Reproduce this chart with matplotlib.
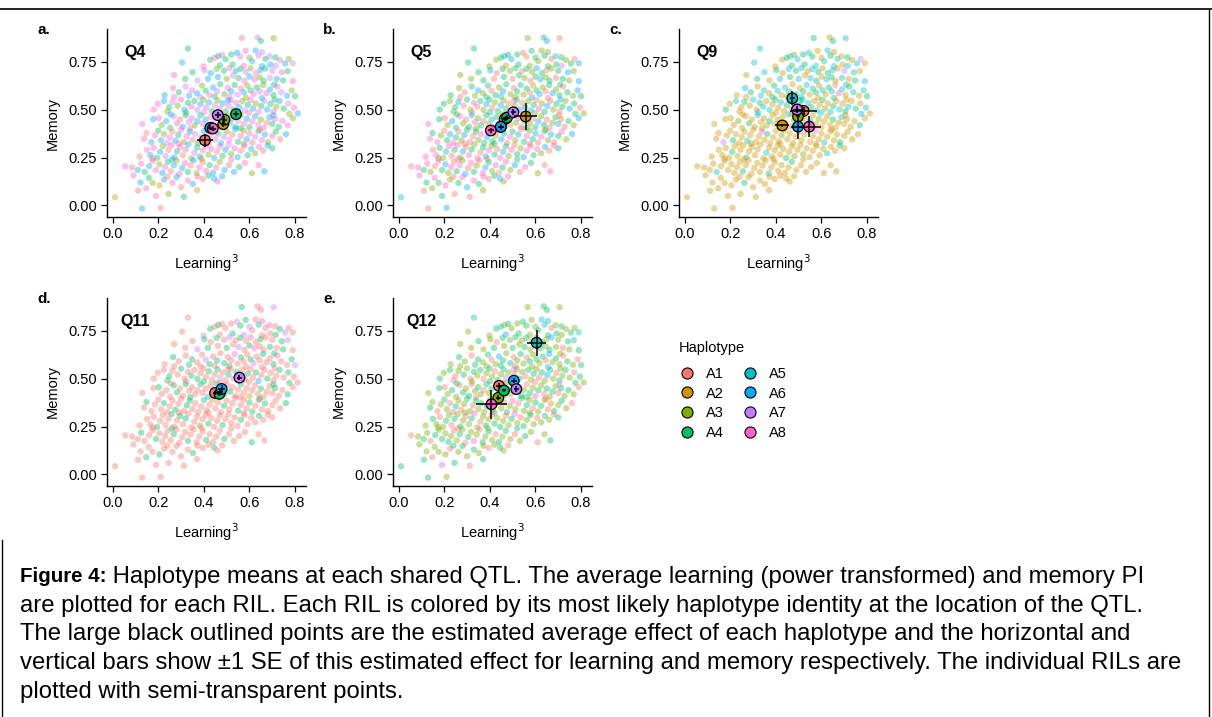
import numpy as np
import matplotlib
matplotlib.use("Agg")
import matplotlib.pyplot as plt
from matplotlib.lines import Line2D

plt.rcParams['font.family'] = ['Liberation Sans', 'DejaVu Sans']

# haplotype names and ggplot hue colours
hap_names = ["A1", "A2", "A3", "A4", "A5", "A6", "A7", "A8"]
hap_colors = ["#F8766D", "#CD9600", "#7CAE00", "#00BE67",
              "#00BFC4", "#00A9FF", "#C77CFF", "#FF61CC"]

# RIL (learning^3, memory) values, same RILs in each panel, read band by band (memory high -> low)
band_a = [(0.330,0.818),(0.566,0.873),(0.636,0.876),(0.706,0.872),(0.650,0.858),(0.627,0.808),(0.583,0.806),(0.545,0.796),(0.520,0.787),(0.655,0.800),
          (0.480,0.785),(0.463,0.779)]
band_b = [(0.305,0.745),(0.428,0.760),(0.448,0.770),(0.495,0.762),(0.560,0.776),(0.600,0.770),(0.612,0.752),(0.640,0.781),(0.670,0.764),(0.688,0.778),
          (0.714,0.772),(0.734,0.758),(0.756,0.740),(0.772,0.764),(0.790,0.741),(0.526,0.735),(0.575,0.728),(0.692,0.735),(0.715,0.728),(0.470,0.730),
          (0.398,0.725),(0.655,0.726)]
band_c = [(0.270,0.680),(0.350,0.695),(0.402,0.705),(0.430,0.690),(0.456,0.712),(0.488,0.702),(0.512,0.716),(0.540,0.700),(0.560,0.712),(0.585,0.697),
          (0.605,0.715),(0.628,0.690),(0.648,0.705),(0.670,0.714),(0.700,0.702),(0.742,0.694),(0.768,0.700),(0.462,0.670),(0.500,0.660),(0.528,0.678),
          (0.552,0.664),(0.578,0.650),(0.600,0.672),(0.622,0.658),(0.645,0.668),(0.662,0.650),(0.690,0.665),(0.720,0.660),(0.748,0.652),(0.790,0.648),
          (0.372,0.652),(0.418,0.660),(0.318,0.660)]
band_d = [(0.228,0.575),(0.265,0.612),(0.290,0.590),(0.320,0.620),(0.348,0.600),(0.370,0.585),(0.392,0.625),(0.408,0.598),(0.425,0.575),(0.440,0.615),
          (0.458,0.595),(0.472,0.632),(0.490,0.580),(0.505,0.612),(0.520,0.595),(0.535,0.628),(0.548,0.578),(0.562,0.610),(0.575,0.590),(0.590,0.625),
          (0.605,0.600),(0.618,0.580),(0.632,0.615),(0.645,0.595),(0.660,0.628),(0.675,0.585),(0.690,0.605),(0.705,0.575),(0.722,0.620),(0.740,0.590),
          (0.765,0.572),(0.785,0.600),(0.800,0.570),(0.270,0.565),(0.335,0.572),(0.385,0.565),(0.448,0.568),(0.512,0.565),(0.585,0.562),(0.655,0.560),
          (0.708,0.630)]
band_e = [(0.198,0.530),(0.225,0.545),(0.248,0.512),(0.262,0.540),(0.285,0.520),(0.300,0.552),(0.315,0.500),(0.330,0.535),(0.345,0.515),(0.358,0.545),
          (0.372,0.498),(0.385,0.528),(0.398,0.552),(0.410,0.510),(0.422,0.538),(0.435,0.492),(0.448,0.522),(0.460,0.548),(0.470,0.505),(0.482,0.532),
          (0.495,0.490),(0.508,0.520),(0.518,0.550),(0.530,0.500),(0.542,0.535),(0.555,0.512),(0.568,0.545),(0.580,0.495),(0.592,0.525),(0.605,0.550),
          (0.615,0.505),(0.628,0.532),(0.640,0.488),(0.652,0.518),(0.665,0.545),(0.678,0.500),(0.692,0.530),(0.705,0.490),(0.718,0.515),(0.732,0.545),
          (0.750,0.505),(0.770,0.532),(0.795,0.510),(0.812,0.480),(0.775,0.478),(0.710,0.552),(0.598,0.482),(0.505,0.548),(0.400,0.485),(0.322,0.485),
          (0.240,0.490),(0.180,0.500)]
band_f = [(0.130,0.425),(0.178,0.450),(0.202,0.455),(0.215,0.420),(0.235,0.440),(0.252,0.405),(0.268,0.465),(0.282,0.428),(0.295,0.448),(0.308,0.410),
          (0.320,0.470),(0.335,0.435),(0.348,0.455),(0.360,0.418),(0.372,0.440),(0.385,0.470),(0.395,0.425),(0.408,0.448),(0.418,0.405),(0.430,0.462),
          (0.442,0.430),(0.455,0.475),(0.465,0.412),(0.478,0.445),(0.490,0.420),(0.502,0.468),(0.515,0.432),(0.525,0.455),(0.538,0.410),(0.550,0.442),
          (0.562,0.470),(0.575,0.425),(0.588,0.452),(0.600,0.408),(0.612,0.438),(0.625,0.465),(0.638,0.420),(0.650,0.448),(0.662,0.405),(0.675,0.432),
          (0.688,0.460),(0.700,0.425),(0.712,0.450),(0.728,0.410),(0.745,0.440),(0.768,0.418),(0.790,0.455),(0.705,0.470),(0.560,0.402),(0.470,0.478),
          (0.340,0.402),(0.255,0.475)]
band_g = [(0.138,0.348),(0.148,0.378),(0.170,0.330),(0.185,0.365),(0.200,0.390),(0.212,0.340),(0.225,0.372),(0.238,0.325),(0.250,0.355),(0.262,0.385),
          (0.275,0.338),(0.288,0.368),(0.300,0.395),(0.312,0.330),(0.325,0.360),(0.338,0.385),(0.350,0.342),(0.362,0.372),(0.375,0.325),(0.388,0.355),
          (0.400,0.388),(0.412,0.335),(0.425,0.365),(0.438,0.392),(0.450,0.345),(0.462,0.375),(0.475,0.325),(0.488,0.358),(0.500,0.385),(0.512,0.340),
          (0.525,0.370),(0.538,0.398),(0.550,0.332),(0.562,0.362),(0.575,0.390),(0.588,0.345),(0.600,0.375),(0.612,0.328),(0.625,0.358),(0.640,0.388),
          (0.655,0.340),(0.668,0.370),(0.682,0.330),(0.700,0.362),(0.715,0.385),(0.735,0.345),(0.760,0.372),(0.290,0.322),(0.420,0.322),(0.575,0.320),
          (0.645,0.395)]
band_h = [(0.118,0.255),(0.150,0.290),(0.165,0.262),(0.180,0.300),(0.195,0.248),(0.208,0.280),(0.220,0.310),(0.232,0.258),(0.245,0.290),(0.258,0.315),
          (0.270,0.250),(0.282,0.282),(0.295,0.305),(0.308,0.262),(0.320,0.292),(0.332,0.318),(0.345,0.245),(0.358,0.275),(0.370,0.302),(0.382,0.255),
          (0.395,0.288),(0.408,0.312),(0.420,0.265),(0.432,0.295),(0.445,0.248),(0.458,0.280),(0.470,0.308),(0.482,0.258),(0.495,0.290),(0.508,0.315),
          (0.520,0.268),(0.535,0.298),(0.548,0.252),(0.562,0.285),(0.578,0.310),(0.592,0.262),(0.608,0.295),(0.625,0.272),(0.642,0.305),(0.660,0.285),
          (0.680,0.312),(0.700,0.298),(0.175,0.245),(0.260,0.240),(0.390,0.242),(0.520,0.240)]
band_i = [(0.055,0.204),(0.085,0.198),(0.110,0.185),(0.125,0.218),(0.140,0.175),(0.160,0.205),(0.175,0.232),(0.190,0.185),(0.205,0.215),(0.218,0.170),
          (0.230,0.200),(0.242,0.228),(0.255,0.178),(0.268,0.210),(0.280,0.235),(0.292,0.165),(0.305,0.195),(0.318,0.222),(0.330,0.175),(0.342,0.208),
          (0.355,0.235),(0.368,0.168),(0.380,0.198),(0.395,0.225),(0.410,0.180),(0.425,0.210),(0.440,0.170),(0.455,0.198),(0.470,0.228),(0.490,0.185),
          (0.510,0.210),(0.532,0.175),(0.555,0.200),(0.580,0.222),(0.610,0.168),(0.665,0.178),(0.640,0.210)]
band_j = [(0.010,0.043),(0.091,0.157),(0.111,0.077),(0.122,0.120),(0.147,0.090),(0.158,0.144),(0.129,-0.016),(0.210,-0.012),(0.190,0.050),(0.205,0.105),
          (0.225,0.135),(0.245,0.060),(0.262,0.118),(0.280,0.148),(0.300,0.095),(0.312,0.045),(0.330,0.130),(0.352,0.112),(0.370,0.080),(0.372,0.150),
          (0.395,0.138),(0.420,0.155),(0.445,0.140),(0.460,0.125),(0.480,0.152),(0.240,0.150),(0.175,0.118)]

# most likely haplotype of each RIL at each QTL (digits 1-8), one string per band
hap_q4 = ["4873468647 84", "6484736847 4863748674 86", "8476348647 3864784637 4868347648 764",
          "6847863486 7438647863 4847386487 6348674836 4",
          "8647386484 7638647386 4874863748 6384764836 4786348674 38",
          "8683647816 4783648638 7164836847 3864867381 6484783648 16",
          "8168463781 6483861748 6381846738 1648368174 8638416873 1",
          "1868463718 6481863746 8138618467 3861846381 648638",
          "8168461836 8416386841 6381846836 1648368", "2816846182 6386148628 1468613"]
hap_q5 = ["4341634143 46", "4346143415 4341643472 34", "3461434143 6413463414 3146341436 413",
          "4314634143 6431453412 4631463414 3641345361 4",
          "4346143814 3641346341 4356143641 8346134143 6413463141 34",
          "8413648314 6834143614 8346143816 4314634183 4621436148 34",
          "8483146841 3648143846 1438641843 6148346184 3614836148 3",
          "8184368148 3618438146 8341864381 4368148361 843814",
          "1848318463 8148361843 1864381483 6184381", "5814381648 3148618438 1463814"]
hap_q9 = ["5425452542 35", "5245425452 4257245254 25", "2542545254 2452752452 5425425245 254",
          "2542524525 4252452542 5245185245 2542542524 5",
          "2524252452 5242524527 2452542524 3254252452 4252625425 24",
          "2222322422 5222422322 2522242226 2232222422 5222242222 32",
          "2272242222 5222282422 2232222282 2422722522 2242222322 2",
          "2222242222 4222222522 2222422322 3222222522 422222",
          "2222522222 2242222222 2522222242 2222222", "2222222222 2242222222 2222222"]
hap_q11 = ["1417814718 14", "1411471418 1471147141 71", "1141417141 8141147141 7148114141 741",
           "1411411741 4141181411 4711411481 1471411411 4",
           "1141141141 4111411471 1411411141 1461141114 1411411141 41",
           "1141114411 4111141161 1411414111 4112111411 1141141411 41",
           "1411114111 4111441111 4112111411 1141114411 1411114111 4",
           "1111411114 1141411113 1141111411 1114111141 111411",
           "1114111411 1114111141 1111411114 1111411", "1111411114 1111111411 1141111"]
hap_q12 = ["5343453435 43", "3453434513 4343543436 34", "3431434341 3436345343 4314343134 343",
           "3431434136 4341343143 4341634314 3143434136 3",
           "3413431434 1343143473 4134314343 1436431434 3143431743 14",
           "3413431434 1343143437 4134314343 1438431434 3143431743 14",
           "4313431843 1343143434 3134314383 1434314343 1243431343 1",
           "3431343143 4313483134 3143431348 3143431343 143134",
           "1343143434 3134314383 1434314343 1343143", "4343134383 1434314343 1343143"]

# estimated haplotype means (learning, memory) and SE
q4_hap = [1, 2, 3, 4, 6, 7, 8]
q4_learn = [0.405, 0.485, 0.490, 0.541, 0.428, 0.461, 0.439]
q4_mem = [0.340, 0.424, 0.447, 0.476, 0.405, 0.471, 0.401]
q4_learn_se = [0.036, 0.012, 0.012, 0.015, 0.012, 0.012, 0.012]
q4_mem_se = [0.034, 0.015, 0.018, 0.015, 0.012, 0.015, 0.012]

q5_hap = [1, 3, 4, 5, 6, 7, 8, 2]
q5_learn = [0.470, 0.465, 0.475, 0.448, 0.448, 0.503, 0.404, 0.557]
q5_mem = [0.455, 0.450, 0.458, 0.410, 0.410, 0.486, 0.391, 0.464]
q5_learn_se = [0.012, 0.012, 0.012, 0.012, 0.014, 0.012, 0.012, 0.051]
q5_mem_se = [0.012, 0.012, 0.012, 0.012, 0.014, 0.015, 0.012, 0.068]

q9_hap = [1, 2, 3, 4, 5, 6, 7, 8]
q9_learn = [0.522, 0.428, 0.497, 0.493, 0.472, 0.497, 0.493, 0.546]
q9_mem = [0.493, 0.417, 0.464, 0.500, 0.559, 0.411, 0.500, 0.411]
q9_learn_se = [0.060, 0.030, 0.010, 0.010, 0.010, 0.030, 0.020, 0.052]
q9_mem_se = [0.020, 0.008, 0.010, 0.010, 0.036, 0.062, 0.020, 0.056]

q11_hap = [2, 3, 5, 1, 4, 6, 7]
q11_learn = [0.468, 0.466, 0.470, 0.449, 0.468, 0.478, 0.556]
q11_mem = [0.425, 0.424, 0.428, 0.425, 0.420, 0.446, 0.505]
q11_learn_se = [0.010, 0.010, 0.010, 0.010, 0.010, 0.014, 0.012]
q11_mem_se = [0.010, 0.010, 0.010, 0.010, 0.012, 0.020, 0.012]

q12_hap = [1, 3, 4, 5, 6, 7, 8]
q12_learn = [0.440, 0.437, 0.462, 0.605, 0.505, 0.516, 0.407]
q12_mem = [0.462, 0.400, 0.438, 0.687, 0.489, 0.445, 0.366]
q12_learn_se = [0.012, 0.012, 0.010, 0.042, 0.012, 0.012, 0.068]
q12_mem_se = [0.014, 0.012, 0.010, 0.067, 0.014, 0.015, 0.075]

caption_lines = [
    "Haplotype means at each shared QTL. The average learning (power transformed) and memory PI",
    "are plotted for each RIL. Each RIL is colored by its most likely haplotype identity at the location of the QTL.",
    "The large black outlined points are the estimated average effect of each haplotype and the horizontal and",
    "vertical bars show \u00b11 SE of this estimated effect for learning and memory respectively. The individual RILs are",
    "plotted with semi-transparent points.",
]

bands = [band_a, band_b, band_c, band_d, band_e, band_f, band_g, band_h, band_i, band_j]
rils = [p for b in bands for p in b]
learning = np.array([p[0] for p in rils])
memory = np.array([p[1] for p in rils])


def hap_codes(strings):
    out = []
    for b, s in zip(bands, strings):
        s = s.replace(" ", "")
        if len(s) != len(b):
            raise ValueError("band length %d vs %d" % (len(b), len(s)))
        out += [int(c) for c in s]
    return np.array(out)


W, H = 1212, 717
fig = plt.figure(figsize=(W / 100, H / 100), dpi=100)


def px_axes(l, t, w, h):
    return fig.add_axes([l / W, 1 - (t + h) / H, w / W, h / H])


panels = [
    ("a.", "Q4", hap_q4, q4_hap, q4_learn, q4_mem, q4_learn_se, q4_mem_se, 107, 29),
    ("b.", "Q5", hap_q5, q5_hap, q5_learn, q5_mem, q5_learn_se, q5_mem_se, 393, 29),
    ("c.", "Q9", hap_q9, q9_hap, q9_learn, q9_mem, q9_learn_se, q9_mem_se, 679, 29),
    ("d.", "Q11", hap_q11, q11_hap, q11_learn, q11_mem, q11_learn_se, q11_mem_se, 107, 298),
    ("e.", "Q12", hap_q12, q12_hap, q12_learn, q12_mem, q12_learn_se, q12_mem_se, 393, 298),
]

for tag, name, hstr, mh, ml, mm, mls, mms, left, top in panels:
    ax = px_axes(left, top, 199, 188)
    codes = hap_codes(hstr)
    cols = [hap_colors[c - 1] for c in codes]
    ax.scatter(learning, memory, c=cols, s=21, alpha=0.4, linewidths=0, zorder=2)
    ax.scatter(ml, mm, c=[hap_colors[h - 1] for h in mh], s=58,
               edgecolors="black", linewidths=0.9, zorder=3)
    ax.errorbar(ml, mm, xerr=mls, yerr=mms, fmt="none", ecolor="black",
                elinewidth=1.1, capsize=0, zorder=4)
    ax.text(0.1, 0.8, name, fontsize=11.5, fontweight="bold", ha="center", va="center")
    ax.set_xlim(-0.025, 0.848)
    ax.set_ylim(-0.06, 0.92)
    ax.set_xticks([0.0, 0.2, 0.4, 0.6, 0.8])
    ax.set_xticklabels(["0.0", "0.2", "0.4", "0.6", "0.8"])
    ax.set_yticks([0.0, 0.25, 0.5, 0.75])
    ax.set_yticklabels(["0.00", "0.25", "0.50", "0.75"])
    for s in ["top", "right"]:
        ax.spines[s].set_visible(False)
    for s in ["left", "bottom"]:
        ax.spines[s].set_linewidth(1.0)
    ax.tick_params(direction="out", length=4, width=0.9, labelsize=10.5, colors="black", pad=3)
    ax.set_xlabel("Learning$^3$", fontsize=10.5, labelpad=8)
    ax.set_ylabel("Memory", fontsize=10.5, labelpad=6)
    fig.text((left - 70) / W, 1 - (top + 1) / H, tag, fontsize=11, fontweight="bold",
             ha="left", va="center")

# legend (title drawn as its own text so the gap below it matches)
fig.text(679 / W, 1 - 348 / H, "Haplotype", fontsize=10.5, ha="left", va="center")
handles = [Line2D([], [], marker="o", linestyle="none", markersize=8,
                  markerfacecolor=c, markeredgecolor="black", markeredgewidth=0.8)
           for c in hap_colors]
leg = fig.legend(handles, hap_names, ncol=2, frameon=False,
                 loc="upper left", bbox_to_anchor=(680 / W, 1 - 367 / H),
                 fontsize=10.5, handlelength=1.0,
                 handletextpad=0.8, columnspacing=1.3, labelspacing=0.38,
                 borderpad=0, borderaxespad=0)

# caption
first_y = 577
for i, line in enumerate(caption_lines):
    y = 1 - (first_y + i * 28.7) / H
    if i == 0:
        bold = fig.text(20 / W, y, "Figure 4:", fontsize=14.8, fontweight="bold", va="center")
        plt.annotate(" " + line, xy=(1, 0.5), xycoords=bold, fontsize=17.2,
                     va="center", ha="left")
    else:
        fig.text(20 / W, y, line, fontsize=17.2, va="center")

# frame lines of the figure box
fig.add_artist(Line2D([0, 1], [1 - 9 / H, 1 - 9 / H], color="black", lw=1.2))
fig.add_artist(Line2D([1209 / W, 1209 / W], [0, 1 - 9 / H], color="black", lw=1.0))
fig.add_artist(Line2D([2 / W, 2 / W], [0, 1 - 540 / H], color="black", lw=1.0))

fig.savefig("out.png", dpi=100)
